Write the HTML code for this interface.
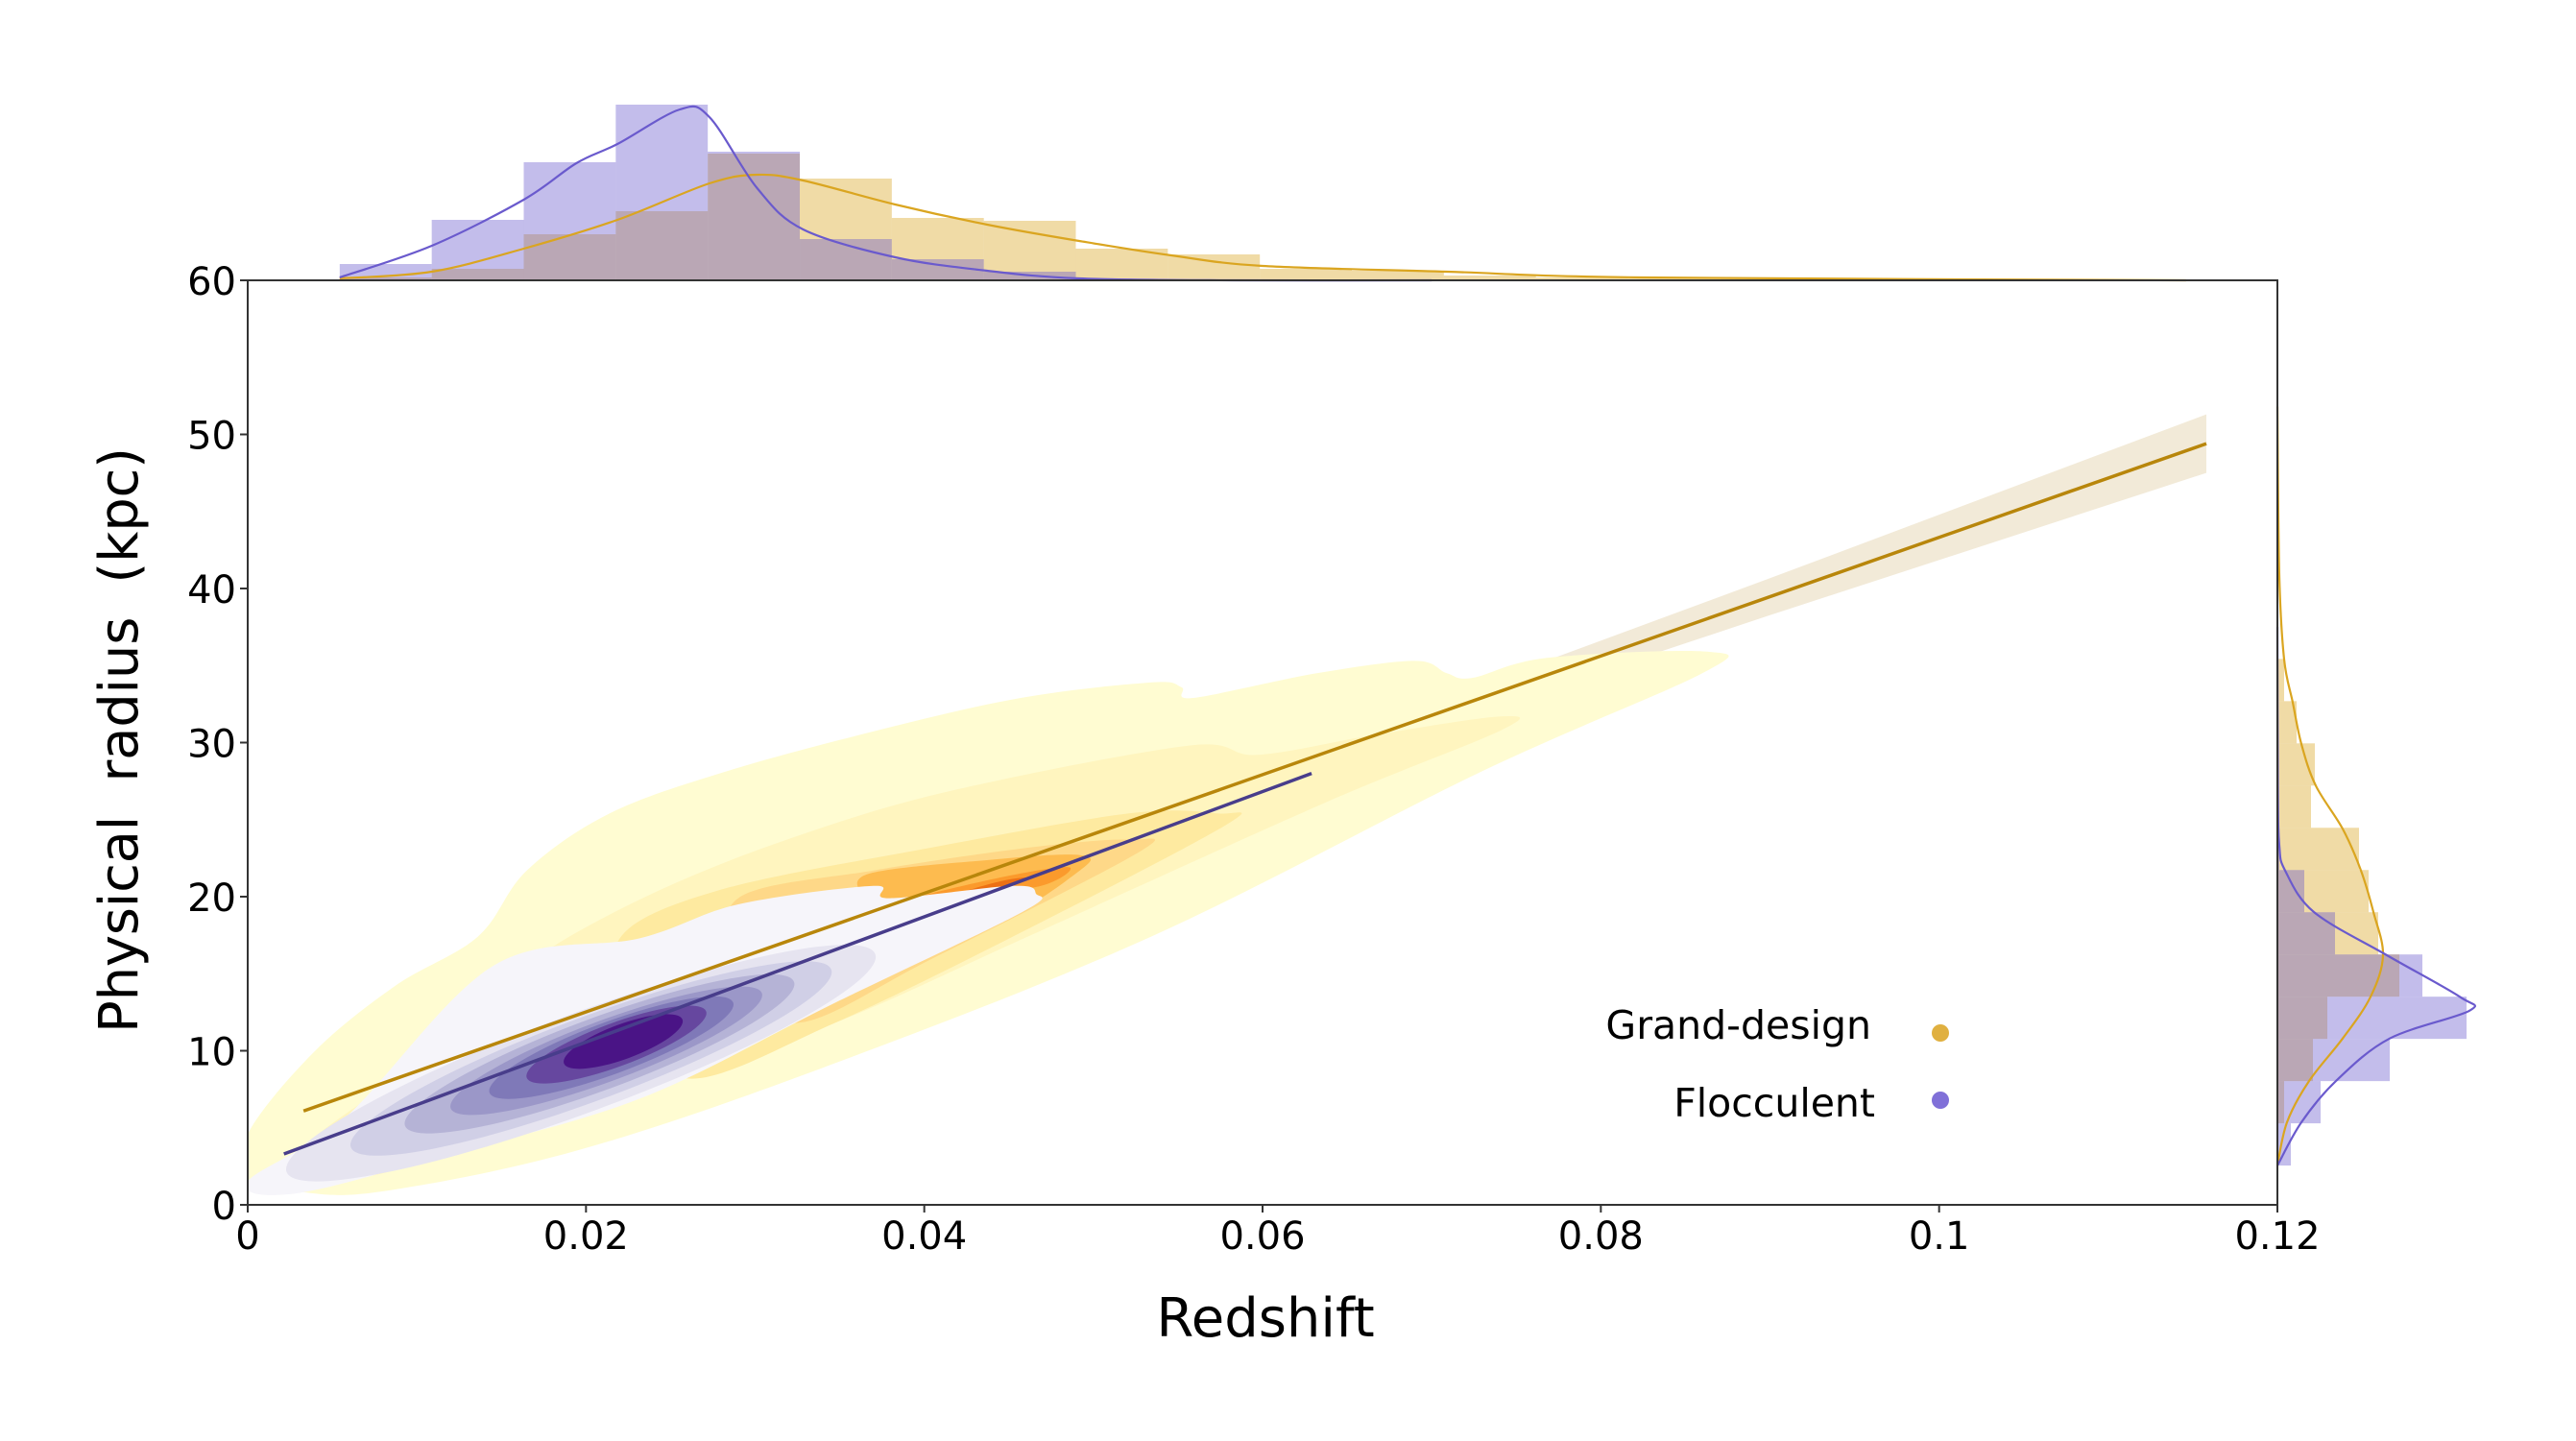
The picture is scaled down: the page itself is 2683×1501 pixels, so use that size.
<!DOCTYPE html>
<html><head><meta charset="utf-8"><style>
html,body{margin:0;padding:0;background:#fff}
svg{display:block;font-family:"DejaVu Sans","Liberation Sans",sans-serif}
</style></head><body>
<svg id="chart" width="2683" height="1501" viewBox="0 0 2683 1501" xmlns="http://www.w3.org/2000/svg">
<g id="main"></g>
<g id="topm"></g>
<g id="rightm"></g>
<g id="axes"></g>
<text x="1318" y="1392" font-size="56" text-anchor="middle">Redshift</text>
<text x="0" y="0" font-size="56" text-anchor="middle" textLength="610" lengthAdjust="spacing" style="white-space:pre" transform="translate(143,771) rotate(-90)">Physical  radius  (kpc)</text>
<g>
<text x="1949" y="1082" font-size="41" text-anchor="end">Grand-design</text>
<circle cx="2021" cy="1076" r="9" fill="#e0b040"/>
<text x="1953" y="1163" font-size="41" text-anchor="end">Flocculent</text>
<circle cx="2021" cy="1146" r="9" fill="#8070d8"/>
</g>
</svg>
<script>
// ---------- data ----------
const xTicks = [0, 0.02, 0.04, 0.06, 0.08, 0.1, 0.12];
const xTickLabels = ["0", "0.02", "0.04", "0.06", "0.08", "0.1", "0.12"];
const yTicks = [0, 10, 20, 30, 40, 50, 60];
const yTickLabels = ["0", "10", "20", "30", "40", "50", "60"];

// top histogram (redshift)
const zBinStart = 0.00544;
const zBinWidth = 0.00544;
const zHistFloc = [17, 63, 123, 183, 134, 43, 22, 9, 1, 0, 0, 0, 0, 0, 0, 0, 0, 0, 0, 0];
const zHistGrand = [3, 12, 48, 72, 132, 106, 65, 62, 33, 27, 12, 10, 5, 3, 2, 2, 1, 1, 1, 1];
const zKdeFlocX = [0.00544, 0.01088, 0.01632, 0.01943, 0.02186, 0.02555, 0.0273, 0.03012, 0.03284, 0.03828, 0.04372, 0.04916, 0.0583, 0.07];
const zKdeFlocY = [3, 36, 84, 122, 142, 178, 170, 96, 53, 24, 10, 2, 0, 0];
const zKdeGrandX = [0.00544, 0.01088, 0.01632, 0.02186, 0.0273, 0.03012, 0.03284, 0.03828, 0.04372, 0.04916, 0.0546, 0.06, 0.0709, 0.0825, 0.1146];
const zKdeGrandY = [2, 9, 33, 63, 101, 110, 104, 79, 58, 41, 26, 15, 9, 3, 0];

// right histogram (radius)
const rBinStart = 2.55;
const rBinWidth = 2.74;
const rHistFloc = [14, 45, 117, 197, 151, 60, 28, 2, 0, 0, 0, 0];
const rHistGrand = [0, 7, 37, 52, 127, 105, 95, 85, 35, 39, 20, 7];
const rKdeFlocR = [2.55, 5.36, 8.04, 10.8, 12.6, 13.5, 16.2, 19.0, 21.7, 23.3, 27.1, 37.5];
const rKdeFlocW = [0, 25, 61, 117, 200, 190, 114, 38, 8, 2, 0.5, 0];
const rKdeGrandR = [2.55, 5.36, 8.04, 10.8, 13.5, 16.2, 19.0, 21.7, 24.4, 27.2, 29.9, 32.6, 35.4, 40.8, 51.8];
const rKdeGrandW = [0, 10, 33, 68, 97, 110, 100, 87, 68, 40, 25, 16, 7, 2, 0];

// regression fits
const fitGrandZ = [0.0033, 0.1158];
const fitGrandR = [6.09, 49.4];
const fitFlocZ = [0.00214, 0.0629];
const fitFlocR = [3.3, 28.0];
const bandZ = [0.0033, 0.03, 0.06, 0.09, 0.1158];
const bandHalf = [1.0, 0.4, 0.6, 1.2, 1.9];

// grand-design KDE contour outlines (z, kpc), outer to inner
const gL1z = [0, 0.0039, 0.0087, 0.0136, 0.0165, 0.0214, 0.0282, 0.0369, 0.0457, 0.0534, 0.0552, 0.0559, 0.0632, 0.069, 0.0709, 0.0724, 0.0768, 0.0863, 0.086, 0.0729, 0.0534, 0.034, 0.0194, 0.0078, 0.0029, 0];
const gL1r = [4.6, 9.9, 14.2, 17.4, 21.7, 25.4, 28.1, 30.7, 32.9, 33.9, 33.6, 32.9, 34.5, 35.3, 34.5, 34.2, 35.5, 35.9, 34.5, 28.1, 17.4, 8.9, 3.5, 0.85, 0.85, 1.4];
const gL2z = [0.0029, 0.0087, 0.0145, 0.0174, 0.0243, 0.0324, 0.0417, 0.0556, 0.0597, 0.0666, 0.0741, 0.0741, 0.0637, 0.0463, 0.0347, 0.0232, 0.0116, 0.0058];
const gL2r = [3.2, 8.2, 13.1, 16.3, 20.4, 23.9, 26.9, 29.8, 29.2, 30.5, 31.7, 30.8, 26.1, 17.5, 11.8, 7.4, 3.2, 1.7];
const gL3z = [0.0232, 0.022, 0.0278, 0.0405, 0.0521, 0.0573, 0.0579, 0.0463, 0.0347, 0.026];
const gL3r = [13.1, 17.3, 20.4, 23.2, 25.4, 25.4, 24.7, 18.0, 11.8, 8.2];
const gL4z = [0.029, 0.037, 0.0463, 0.0521, 0.0527, 0.0405, 0.0324, 0.029];
const gL4r = [19.9, 21.7, 23.2, 23.7, 22.9, 16.0, 11.8, 15.5];
const gL5z = [0.0365, 0.044, 0.0492, 0.0492, 0.044, 0.0376];
const gL5r = [21.4, 22.4, 22.7, 21.7, 18.5, 19.5];
const gL6z = [0.0394, 0.0452, 0.0486, 0.0469, 0.0417];
const gL6r = [19.9, 21.4, 21.9, 20.7, 19.9];
const gL7z = [0.0415, 0.0445, 0.0462, 0.0440];
const gL7r = [20.0, 21.0, 21.2, 20.3];

// flocculent KDE: outer outline + nested ellipses
const fL1z = [0, 0.0058, 0.0145, 0.0232, 0.029, 0.037, 0.0379, 0.0452, 0.0466, 0.0458, 0.0347, 0.0232, 0.0116, 0.0029];
const fL1r = [1.5, 5.7, 15.5, 17.3, 19.5, 20.7, 19.9, 20.7, 20.2, 19.0, 13.1, 6.9, 3.2, 0.75];
const fEllZ = [0.0197, 0.0203, 0.0208, 0.0212, 0.0215, 0.0218, 0.0222];
const fEllR = [9.2, 9.5, 9.8, 10.0, 10.2, 10.4, 10.6];
const fEllHalfZ = [0.0174, 0.0142, 0.0115, 0.0092, 0.0072, 0.0053, 0.0035];
const fEllHalfR = [3.4, 2.9, 2.5, 2.1, 1.8, 1.5, 1.2];

// ---------- scales ----------
const X0 = 258, X1 = 2372, Y0 = 1255, Y1 = 292;
const xS = z => X0 + z / 0.12 * (X1 - X0);
const yS = r => Y0 - r / 60 * (Y0 - Y1);
const NS = "http://www.w3.org/2000/svg";
function mk(tag, parent, attrs) {
  const e = document.createElementNS(NS, tag);
  for (const k in attrs) e.setAttribute(k, attrs[k]);
  parent.appendChild(e);
  return e;
}
function smooth(pts, closed) {
  const n = pts.length;
  let d = "M" + pts[0][0].toFixed(1) + "," + pts[0][1].toFixed(1);
  const segs = closed ? n : n - 1;
  for (let i = 0; i < segs; i++) {
    const p0 = pts[closed ? (i - 1 + n) % n : Math.max(i - 1, 0)];
    const p1 = pts[i];
    const p2 = pts[(i + 1) % n];
    const p3 = pts[closed ? (i + 2) % n : Math.min(i + 2, n - 1)];
    const c1 = [p1[0] + (p2[0] - p0[0]) / 6, p1[1] + (p2[1] - p0[1]) / 6];
    const c2 = [p2[0] - (p3[0] - p1[0]) / 6, p2[1] - (p3[1] - p1[1]) / 6];
    d += "C" + c1[0].toFixed(1) + "," + c1[1].toFixed(1) + " " + c2[0].toFixed(1) + "," + c2[1].toFixed(1) + " " + p2[0].toFixed(1) + "," + p2[1].toFixed(1);
  }
  return d + (closed ? "Z" : "");
}
const main = document.getElementById("main");
const topm = document.getElementById("topm");
const rightm = document.getElementById("rightm");
const axes = document.getElementById("axes");

const clip = mk("clipPath", main, {id: "plotclip"});
mk("rect", clip, {x: X0, y: Y1, width: X1 - X0, height: Y0 - Y1});
const plot = mk("g", main, {"clip-path": "url(#plotclip)"});



// CI band
{
  const up = bandZ.map((z, i) => {
    const r = fitGrandR[0] + (fitGrandR[1] - fitGrandR[0]) * (z - fitGrandZ[0]) / (fitGrandZ[1] - fitGrandZ[0]);
    return [xS(z), yS(r + bandHalf[i])];
  });
  const lo = bandZ.map((z, i) => {
    const r = fitGrandR[0] + (fitGrandR[1] - fitGrandR[0]) * (z - fitGrandZ[0]) / (fitGrandZ[1] - fitGrandZ[0]);
    return [xS(z), yS(r - bandHalf[i])];
  }).reverse();
  const pts = up.concat(lo);
  const b = mk("path", plot, {d: "M" + pts.map(p => p[0].toFixed(1) + "," + p[1].toFixed(1)).join("L") + "Z", fill: "#f2ead8"});
  
  
}

// gold contours
const gLevels = [[gL1z, gL1r, "#fffcd2"], [gL2z, gL2r, "#fff5bf"], [gL3z, gL3r, "#feeaa0"], [gL4z, gL4r, "#fed888"], [gL5z, gL5r, "#fdbb4f"], [gL6z, gL6r, "#fb9a2c"], [gL7z, gL7r, "#ec7014"]];
gLevels.forEach((L, i) => {
  const pts = L[0].map((z, j) => [xS(z), yS(L[1][j])]);
  const p = mk("path", plot, {d: smooth(pts, true), fill: L[2]});
  
  
});

// purple contours
{
  const pts = fL1z.map((z, j) => [xS(z), yS(fL1r[j])]);
  const p = mk("path", plot, {d: smooth(pts, true), fill: "#f6f5fa"});
  
  
}
const fColors = ["#e6e4f0", "#d0cfe6", "#b5b3d6", "#9b97c8", "#7f79b8", "#66479f", "#4a1486"];
const ang = Math.atan2((fitFlocR[1] - fitFlocR[0]) * (Y0 - Y1) / 60, (fitFlocZ[1] - fitFlocZ[0]) * (X1 - X0) / 0.12);
fEllZ.forEach((z, i) => {
  const rx = fEllHalfZ[i] * (X1 - X0) / 0.12 / Math.cos(ang);
  const ry = fEllHalfR[i] * (Y0 - Y1) / 60 * Math.cos(ang);
  const e = mk("ellipse", plot, {cx: xS(z), cy: yS(fEllR[i]), rx: rx.toFixed(1), ry: ry.toFixed(1), fill: fColors[i],
    transform: "rotate(" + (-ang * 180 / Math.PI).toFixed(2) + " " + xS(z) + " " + yS(fEllR[i]) + ")"});
  
  
});

// fit lines
{
  const l1 = mk("line", plot, {x1: xS(fitGrandZ[0]), y1: yS(fitGrandR[0]), x2: xS(fitGrandZ[1]), y2: yS(fitGrandR[1]), stroke: "#b8860b", "stroke-width": 3.5});
  
  
  const l2 = mk("line", plot, {x1: xS(fitFlocZ[0]), y1: yS(fitFlocR[0]), x2: xS(fitFlocZ[1]), y2: yS(fitFlocR[1]), stroke: "#483d8b", "stroke-width": 3.5});
  
  
}

// top marginal
zHistGrand.forEach((v, i) => {
  const x0 = xS(zBinStart + i * zBinWidth), x1 = xS(zBinStart + (i + 1) * zBinWidth);
  const r = mk("rect", topm, {x: x0, y: Y1 - v, width: x1 - x0, height: v, fill: "rgba(218,165,32,0.4)"});
  
  
});
zHistFloc.forEach((v, i) => {
  const x0 = xS(zBinStart + i * zBinWidth), x1 = xS(zBinStart + (i + 1) * zBinWidth);
  const r = mk("rect", topm, {x: x0, y: Y1 - v, width: x1 - x0, height: v, fill: "rgba(106,90,205,0.4)"});
  
  
});
{
  const k1 = mk("path", topm, {d: smooth(zKdeGrandX.map((z, i) => [xS(z), Y1 - zKdeGrandY[i]]), false), fill: "none", stroke: "#daa520", "stroke-width": 2.2});
  
  
  const k2 = mk("path", topm, {d: smooth(zKdeFlocX.map((z, i) => [xS(z), Y1 - zKdeFlocY[i]]), false), fill: "none", stroke: "#6a5acd", "stroke-width": 2.2});
  
  
}

// right marginal
rHistGrand.forEach((v, i) => {
  const y0 = yS(rBinStart + (i + 1) * rBinWidth), y1 = yS(rBinStart + i * rBinWidth);
  const r = mk("rect", rightm, {x: X1, y: y0, width: v, height: y1 - y0, fill: "rgba(218,165,32,0.4)"});
  
  
});
rHistFloc.forEach((v, i) => {
  const y0 = yS(rBinStart + (i + 1) * rBinWidth), y1 = yS(rBinStart + i * rBinWidth);
  const r = mk("rect", rightm, {x: X1, y: y0, width: v, height: y1 - y0, fill: "rgba(106,90,205,0.4)"});
  
  
});
{
  const k1 = mk("path", rightm, {d: smooth(rKdeGrandR.map((r, i) => [X1 + rKdeGrandW[i], yS(r)]), false), fill: "none", stroke: "#daa520", "stroke-width": 2.2});
  
  
  const k2 = mk("path", rightm, {d: smooth(rKdeFlocR.map((r, i) => [X1 + rKdeFlocW[i], yS(r)]), false), fill: "none", stroke: "#6a5acd", "stroke-width": 2.2});
  
  
}

// axes frame and ticks
{
  const f = mk("rect", axes, {x: X0, y: Y1, width: X1 - X0, height: Y0 - Y1, fill: "none", stroke: "#333", "stroke-width": 2});
  
  
}
xTicks.forEach((t, i) => {
  const tk = mk("line", axes, {x1: xS(t), y1: Y0, x2: xS(t), y2: Y0 + 8, stroke: "#333", "stroke-width": 2});
  
  
  const tx = mk("text", axes, {x: xS(t), y: Y0 + 46, "font-size": 40, "text-anchor": "middle"});
  tx.textContent = xTickLabels[i];
  
  
});
yTicks.forEach((t, i) => {
  const tk = mk("line", axes, {x1: X0 - 8, y1: yS(t), x2: X0, y2: yS(t), stroke: "#333", "stroke-width": 2});
  
  
  const tx = mk("text", axes, {x: X0 - 12, y: yS(t) + 15, "font-size": 40, "text-anchor": "end"});
  tx.textContent = yTickLabels[i];
  
  
});
</script>
</body></html>
